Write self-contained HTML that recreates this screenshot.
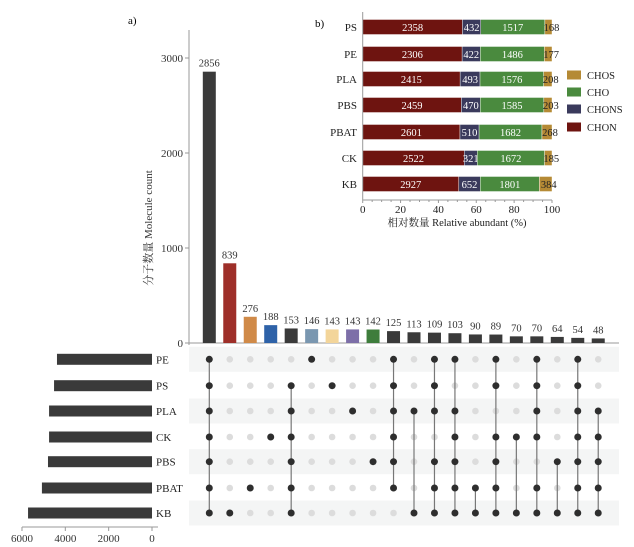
<!DOCTYPE html>
<html><head><meta charset="utf-8"><style>
body{margin:0;background:#fff}
svg{display:block;font-family:"Liberation Serif","Noto Serif CJK SC",serif}
</style></head><body>
<svg id="s" width="634" height="547" viewBox="0 0 634 547" xmlns="http://www.w3.org/2000/svg"></svg>
<script>
const s=document.getElementById('s');let h='';
const T=(x,y,t,o='')=>h+=`<text x="${x}" y="${y}" ${o}>${t}</text>`;
// panel a
T(128,24,'a)','font-size="11"');
const rowsY=[359.3,385.7,411,437,461.7,488,513];
const rows=['PE','PS','PLA','CK','PBS','PBAT','KB'];
// stripes
[0,2,4,6].forEach(i=>h+=`<rect x="189" y="${rowsY[i]-12.5}" width="430" height="25" fill="#f4f5f5"/>`);
// y axis
h+=`<line x1="189" y1="30" x2="189" y2="345" stroke="#999" stroke-width="1"/>`;
h+=`<line x1="189" y1="343" x2="619" y2="343" stroke="#999" stroke-width="1"/>`;
[0,1000,2000,3000].forEach(v=>{const y=343-v*0.095;h+=`<line x1="185" y1="${y}" x2="189" y2="${y}" stroke="#999"/>`;T(183,y+4,v,'font-size="11" text-anchor="end" fill="#333"');});
h+=`<text transform="translate(152,228) rotate(-90)" font-size="11" text-anchor="middle" fill="#333">分子数量 Molecule count</text>`;
const vals=[2856,839,276,188,153,146,143,143,142,125,113,109,103,90,89,70,70,64,54,48];
const cols=['#3a3a3a','#9e2f29','#d08a48','#2e62a8','#3a3a3a','#7a97b0','#f3d59a','#7d6fa8','#3e7d3c'];
const mem=[[0,1,2,3,4,5,6],[6],[5],[3],[1,2,3,4,5,6],[0],[1],[2],[4],[0,1,2,3,4,5],[2,6],[0,1,2,4,5,6],[0,2,3,4,5,6],[5,6],[0,1,3,4,5,6],[3,6],[0,1,2,3,5,6],[4,6],[0,1,2,3,4,5,6],[2,3,4,5,6]];
vals.forEach((v,i)=>{const x=209.3+20.47*i;const y=343-v*0.095;
h+=`<rect x="${x-6.5}" y="${y}" width="13" height="${343-y}" fill="${cols[i]||'#3a3a3a'}"/>`;
T(x,y-5,v,'font-size="10.5" text-anchor="middle" fill="#333"');
rowsY.forEach((ry,r)=>{if(!mem[i].includes(r))h+=`<circle cx="${x}" cy="${ry}" r="3.3" fill="#dcdcdc"/>`;});
const m=mem[i];if(m.length>1)h+=`<line x1="${x}" y1="${rowsY[m[0]]}" x2="${x}" y2="${rowsY[m[m.length-1]]}" stroke="#777" stroke-width="1.2"/>`;
m.forEach(r=>h+=`<circle cx="${x}" cy="${rowsY[r]}" r="3.5" fill="#2e2e2e"/>`);
});
// left bars
const tot=[4385,4520,4750,4750,4800,5080,5720];
tot.forEach((v,r)=>{const w=v*0.02167;h+=`<rect x="${152-w}" y="${rowsY[r]-5.5}" width="${w}" height="11" fill="#3a3a3a"/>`;T(156,rowsY[r]+4,rows[r],'font-size="11" fill="#222"');});
h+=`<line x1="22" y1="527" x2="158" y2="527" stroke="#999"/>`;
[0,2000,4000,6000].forEach(v=>{const x=152-v*0.02167;h+=`<line x1="${x}" y1="527" x2="${x}" y2="531" stroke="#999"/>`;T(x,542,v,'font-size="11" text-anchor="middle" fill="#333"');});
// panel b
T(315,27,'b)','font-size="11"');
const bn=['PS','PE','PLA','PBS','PBAT','CK','KB'];
const bd=[[2358,432,1517,168],[2306,422,1486,177],[2415,493,1576,208],[2459,470,1585,203],[2601,510,1682,268],[2522,321,1672,185],[2927,652,1801,384]];
const bc=['#6e1410','#3a3a5c','#4a8a3e','#b58a35'];
const by=[27,54,79,105,132,158,184];
bd.forEach((d,i)=>{const t=d.reduce((a,b)=>a+b);let x=362.7;
T(357,by[i]+4,bn[i],'font-size="11" text-anchor="end" fill="#222"');
d.forEach((v,k)=>{const w=v/t*189.3;h+=`<rect x="${x}" y="${by[i]-7.5}" width="${w}" height="15" fill="${bc[k]}" stroke="#fff" stroke-width="0.4"/>`;
T(k==3?x+w/2+3:x+w/2,by[i]+4,v,`font-size="10.5" text-anchor="middle" fill="${k==3?'#222':'#fff'}"`);x+=w;});
});
h+=`<line x1="362.7" y1="12" x2="362.7" y2="200" stroke="#999"/>`;
h+=`<line x1="362.7" y1="200" x2="552" y2="200" stroke="#999"/>`;
for(let p=0;p<=100;p+=5){const x=362.7+p*1.893;h+=`<line x1="${x}" y1="200" x2="${x}" y2="${p%20?202:203}" stroke="#999"/>`;if(p%20==0)T(x,213,p,'font-size="11" text-anchor="middle" fill="#222"');}
T(457,226,'相对数量 Relative abundant (%)','font-size="10.5" text-anchor="middle" fill="#222"');
[['CHOS',bc[3],75],['CHO',bc[2],92],['CHONS',bc[1],109],['CHON',bc[0],127]].forEach(([n,c,y])=>{h+=`<rect x="567" y="${y-4.5}" width="14" height="9" fill="${c}"/>`;T(587,y+4,n,'font-size="10.5" fill="#222"');});
s.innerHTML=h;
</script>
</body></html>
